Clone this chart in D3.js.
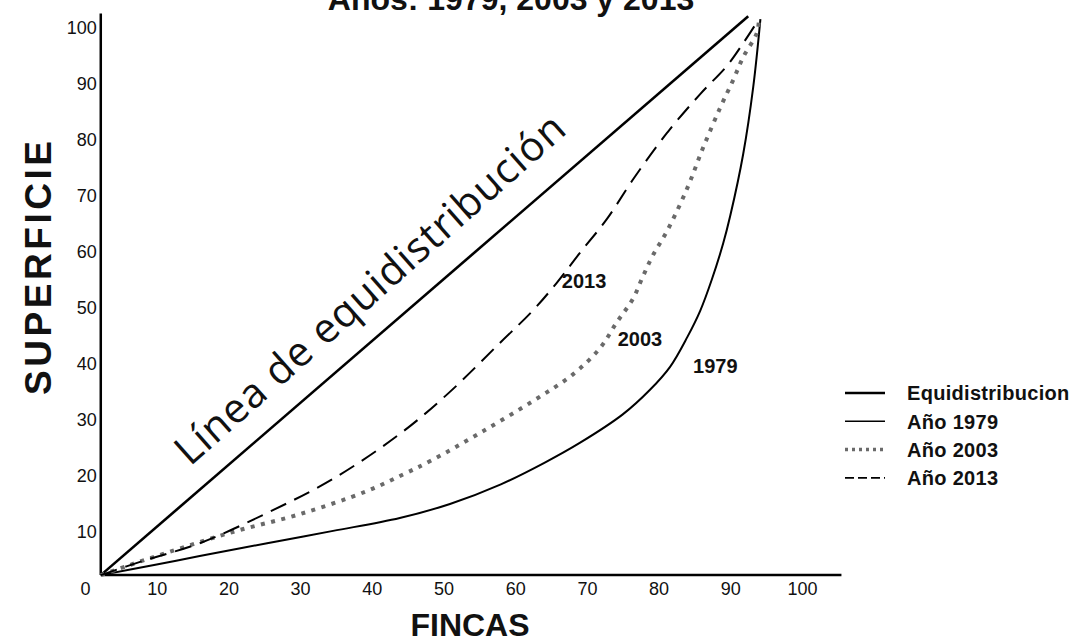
<!DOCTYPE html>
<html>
<head>
<meta charset="utf-8">
<script src="https://cdn.jsdelivr.net/npm/d3@7"></script>
<style>
  body { margin: 0; background: #fff; }
  text { font-family: "Liberation Sans", Arial, sans-serif; fill: #111; }
</style>
</head>
<body>
<div id="chart"></div>
<script>
// Tick labels
const xTicks = [0, 10, 20, 30, 40, 50, 60, 70, 80, 90, 100];
const yTicks = [10, 20, 30, 40, 50, 60, 70, 80, 90, 100];

// Where the two axes meet
const axisOrigin = [2.2, 2.3];

// Curves: % fincas (x) vs % superficie (y)
const equiX = [2.2, 92.5];
const equiY = [2.3, 102.1];

const x1979 = [2.2, 10, 16, 25.4, 34.6, 43.9, 50.9, 58, 64, 69, 75, 78.8, 81.6, 84, 85.8, 87.4, 89, 90, 91.8, 93.2, 94.2];
const y1979 = [2.3, 4.2, 5.7, 8.0, 10.2, 12.5, 15.0, 18.5, 22.3, 25.9, 31, 35.4, 39.5, 44.8, 49.5, 55, 61.5, 66.5, 77.5, 89.5, 101.6];

const x2003 = [2.2, 6, 11.4, 20.6, 30, 39.3, 44.4, 48.5, 55.1, 62.5, 68.1, 71.8, 74.2, 76.4, 77.8, 79.2, 81.2, 84, 86.2, 88.6, 90.4, 91.8, 93.7, 94];
const y2003 = [2.3, 4, 6.3, 10, 13.2, 17.3, 20.3, 22.9, 27.7, 33.4, 38.2, 42.8, 47.5, 51.6, 55.6, 59.4, 63.8, 71.4, 78.6, 85.8, 90.7, 94.8, 99.1, 101.6];

const x2013 = [2.2, 8, 16, 25.4, 34.6, 43.9, 50.7, 57.9, 62.5, 65.8, 69, 72.8, 76.4, 81.2, 85.8, 89.5, 91.8, 94];
const y2013 = [2.3, 4.8, 8, 13.4, 19.5, 27.5, 34.8, 43.8, 49.6, 54.5, 59.8, 65.9, 72.9, 81.3, 88.2, 93.2, 97.3, 101.6];

// Legend and in-chart year labels
const legendNames = ["Equidistribucion", "Año 1979", "Año 2003", "Año 2013"];
const yearLabels = ["2013", "2003", "1979"];
const yearLabelX = [66.5, 74.3, 84.8];
const yearLabelY = [53.5, 43.3, 38.4];

const width = 1078, height = 642;

const svg = d3.select("#chart")
    .append("svg")
    .attr("width", width)
    .attr("height", height);

svg.append("rect").attr("width", width).attr("height", height).attr("fill", "#fff");

// Scales
const x = d3.scaleLinear().domain([0, 100]).range([85, 802]);
const y = d3.scaleLinear().domain([0, 100]).range([588, 28]);

// Title (its top is cut off in the original scan)
svg.append("text")
    .attr("x", 511)
    .attr("y", 10)
    .attr("text-anchor", "middle")
    .style("font-size", "32px")
    .style("font-weight", "bold")
    .text("Años: 1979, 2003 y 2013");

// X axis
const xAxis = d3.axisBottom(x).tickValues(xTicks).tickSize(0).tickPadding(7);
svg.append("g")
    .attr("class", "x-axis")
    .attr("transform", "translate(0," + y(axisOrigin[1]) + ")")
    .call(xAxis)
    .call(g => g.select(".domain").remove())
    .call(g => g.selectAll("text").style("font-size", "18px").attr("fill", "#111"));

// Y axis
const yAxis = d3.axisLeft(y).tickValues(yTicks).tickSize(0).tickPadding(4);
svg.append("g")
    .attr("class", "y-axis")
    .attr("transform", "translate(" + x(axisOrigin[0]) + ",0)")
    .call(yAxis)
    .call(g => g.select(".domain").remove())
    .call(g => g.selectAll("text").style("font-size", "18px").attr("fill", "#111"));

// Axis lines
svg.append("line")
    .attr("x1", x(axisOrigin[0])).attr("x2", x(105.5))
    .attr("y1", y(axisOrigin[1])).attr("y2", y(axisOrigin[1]))
    .attr("stroke", "#000").attr("stroke-width", 2.5);
svg.append("line")
    .attr("x1", x(axisOrigin[0])).attr("x2", x(axisOrigin[0]))
    .attr("y1", y(axisOrigin[1])).attr("y2", y(102.6))
    .attr("stroke", "#000").attr("stroke-width", 2.5);

// Axis titles
svg.append("text")
    .attr("x", 470)
    .attr("y", 636)
    .attr("text-anchor", "middle")
    .style("font-size", "32px")
    .style("font-weight", "bold")
    .text("FINCAS");

svg.append("text")
    .attr("transform", "translate(51,268) rotate(-90)")
    .attr("text-anchor", "middle")
    .style("font-size", "37px")
    .style("font-weight", "bold")
    .attr("textLength", 254)
    .attr("lengthAdjust", "spacing")
    .text("SUPERFICIE");

// Lines
const line = d3.line()
    .x(d => x(d[0]))
    .y(d => y(d[1]))
    .curve(d3.curveCatmullRom.alpha(0.5));

const series = [
    {name: "equi", xs: equiX, ys: equiY, stroke: "#000", width: 2.6, dash: null},
    {name: "1979", xs: x1979, ys: y1979, stroke: "#000", width: 2, dash: null},
    {name: "2003", xs: x2003, ys: y2003, stroke: "#6a6a6a", width: 4, dash: "4,6.5"},
    {name: "2013", xs: x2013, ys: y2013, stroke: "#000", width: 2, dash: "17,9"}
];

svg.selectAll(".curve")
    .data(series)
    .enter()
    .append("path")
    .attr("class", "curve")
    .attr("d", s => line(s.xs.map((v, i) => [v, s.ys[i]])))
    .attr("fill", "none")
    .attr("stroke", s => s.stroke)
    .attr("stroke-width", s => s.width)
    .attr("stroke-dasharray", s => s.dash);

// Label along the equidistribution line
svg.append("text")
    .attr("transform", "translate(190,467) rotate(-41.5)")
    .style("font-family", "'Open Sans', 'DejaVu Sans', sans-serif")
    .style("font-size", "41px")
    .attr("textLength", 505)
    .attr("lengthAdjust", "spacing")
    .text("Línea de equidistribución");

// Year labels next to the curves
svg.selectAll(".year-label")
    .data(yearLabels)
    .enter()
    .append("text")
    .attr("class", "year-label")
    .attr("x", (d, i) => x(yearLabelX[i]))
    .attr("y", (d, i) => y(yearLabelY[i]))
    .style("font-size", "20px")
    .style("font-weight", "bold")
    .text(d => d);

// Legend
const legend = svg.append("g").attr("transform", "translate(845,393)");
const legendStyles = [
    {stroke: "#000", width: 2.6, dash: null},
    {stroke: "#000", width: 1.6, dash: null},
    {stroke: "#6a6a6a", width: 3.5, dash: "3,4"},
    {stroke: "#000", width: 1.6, dash: "9,4"}
];

const items = legend.selectAll(".legend-item")
    .data(legendNames)
    .enter()
    .append("g")
    .attr("class", "legend-item")
    .attr("transform", (d, i) => "translate(0," + i * 28.3 + ")");

items.append("line")
    .attr("x1", 0).attr("x2", 40)
    .attr("stroke", (d, i) => legendStyles[i].stroke)
    .attr("stroke-width", (d, i) => legendStyles[i].width)
    .attr("stroke-dasharray", (d, i) => legendStyles[i].dash);

items.append("text")
    .attr("x", 62)
    .attr("dy", "0.36em")
    .style("font-size", "20px")
    .style("font-weight", "bold")
    .style("letter-spacing", "0.3px")
    .text(d => d);
</script>
</body>
</html>
